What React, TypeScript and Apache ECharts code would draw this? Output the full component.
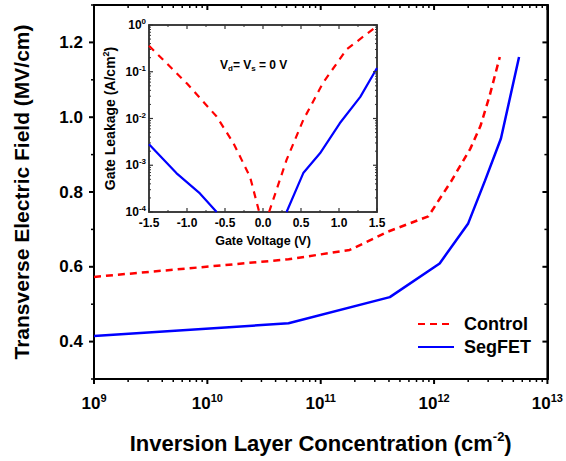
import React, { useEffect, useRef } from 'react';
import * as echarts from 'echarts';

// Main plot data (concentration in cm^-2, field in MV/cm)
const controlX = [1e9, 5.2e10, 1.8e11, 4.0e11, 8.9e11, 1.41e12, 2.09e12, 2.57e12, 3.09e12, 3.8e12];
const controlY = [0.573, 0.62, 0.645, 0.695, 0.735, 0.828, 0.916, 0.977, 1.057, 1.161];
const segX = [1e9, 5.2e10, 4.07e11, 1.12e12, 2.0e12, 2.82e12, 3.89e12, 5.62e12];
const segY = [0.415, 0.449, 0.519, 0.609, 0.716, 0.831, 0.943, 1.161];

// Inset data (gate voltage V, gate leakage A/cm^2)
const insetCtrlLeftV = [-1.5, -1.0, -0.61, -0.39, -0.17, -0.05];
const insetCtrlLeftJ = [0.36, 0.056, 0.011, 0.003, 5.6e-4, 1.0e-4];
const insetCtrlRightV = [0.08, 0.31, 0.53, 0.79, 1.1, 1.5];
const insetCtrlRightJ = [1.0e-4, 1.3e-3, 9.3e-3, 0.058, 0.3, 0.95];
const insetSegLeftV = [-1.5, -1.14, -0.83, -0.61];
const insetSegLeftJ = [2.8e-3, 6.8e-4, 2.5e-4, 1.0e-4];
const insetSegRightV = [0.31, 0.53, 0.75, 1.01, 1.28, 1.5];
const insetSegRightJ = [1.0e-4, 6.8e-4, 1.8e-3, 7.9e-3, 0.029, 0.12];

// Tick values
const xMajorTicks = [1e9, 1e10, 1e11, 1e12, 1e13];
const xDecades = [1e9, 1e10, 1e11, 1e12];
const yMajorTicks = [0.4, 0.6, 0.8, 1.0, 1.2];
const yMinorTicks = [0.3, 0.5, 0.7, 0.9, 1.1, 1.3];
const insetXMajor = [-1.5, -1.0, -0.5, 0, 0.5, 1.0, 1.5];
const insetXMinor = [-1.25, -0.75, -0.25, 0.25, 0.75, 1.25];
const insetYMajor = [1e-4, 1e-3, 1e-2, 1e-1, 1];
const insetYDecades = [1e-4, 1e-3, 1e-2, 1e-1];
const minorMult = [2, 3, 4, 5, 6, 7, 8, 9];

const FONT = '"Liberation Sans", Arial, sans-serif';

const zip = (a: number[], b: number[]) => a.map((v, i) => [v, b[i]]);

export default function App() {
  const ref = useRef<HTMLDivElement>(null);
  useEffect(() => {
    if (!ref.current) return;
    const chart = echarts.init(ref.current, undefined, { renderer: 'svg' });

    const xMinor = xDecades.flatMap((d) => minorMult.map((m) => d * m));
    const insetYMinor = insetYDecades.flatMap((d) => minorMult.map((m) => d * m));

    const expFmt = (v: number) => `{b|10}{s|${Math.round(Math.log10(v))}}`;

    const mainRich = {
      b: { fontSize: 17, fontWeight: 'bold', fontFamily: FONT, color: '#000', lineHeight: 22 },
      s: { fontSize: 11, fontWeight: 'bold', fontFamily: FONT, color: '#000', lineHeight: 11, verticalAlign: 'top' },
    };
    const insetRich = {
      b: { fontSize: 12, fontWeight: 'bold', fontFamily: FONT, color: '#000', lineHeight: 15 },
      s: { fontSize: 8, fontWeight: 'bold', fontFamily: FONT, color: '#000', lineHeight: 8, verticalAlign: 'top' },
    };

    const axisLineMain = { show: true, onZero: false, lineStyle: { color: '#000', width: 2 } };
    const axisLineInset = { show: true, onZero: false, lineStyle: { color: '#333', width: 1.5 } };

    // Tick marks drawn through the axes' scales (api.coord)
    const xTickRender = (len: number, w: number, bottomOut: boolean, color: string) => (params: any, api: any) => {
      const cs = params.coordSys;
      const p = api.coord([api.value(0), api.value(1)]);
      const x = p[0];
      const top = cs.y;
      const bottom = cs.y + cs.height;
      const style = { stroke: color, lineWidth: w, fill: null };
      return {
        type: 'group',
        children: [
          { type: 'line', shape: { x1: x, y1: bottom, x2: x, y2: bottomOut ? bottom + len : bottom - len }, style },
          { type: 'line', shape: { x1: x, y1: top, x2: x, y2: top + len }, style },
        ],
      };
    };
    const yTickRender = (len: number, w: number, leftOut: boolean, color: string) => (params: any, api: any) => {
      const cs = params.coordSys;
      const p = api.coord([api.value(0), api.value(1)]);
      const y = p[1];
      const left = cs.x;
      const right = cs.x + cs.width;
      const style = { stroke: color, lineWidth: w, fill: null };
      return {
        type: 'group',
        children: [
          { type: 'line', shape: { x1: left, y1: y, x2: leftOut ? left - len : left + len, y2: y }, style },
          { type: 'line', shape: { x1: right, y1: y, x2: right - len, y2: y }, style },
        ],
      };
    };
    const tickSeries = (name: string, xi: number, data: number[][], renderItem: any) => ({
      name, type: 'custom', xAxisIndex: xi, yAxisIndex: xi, clip: false, silent: true, z: 10, data, renderItem,
    });

    const option: any = {
      animation: false,
      backgroundColor: '#fff',
      textStyle: { fontFamily: FONT },
      grid: [
        { left: 94, right: 16, top: 5, bottom: 80, show: true, borderColor: '#000', borderWidth: 2, backgroundColor: 'transparent' },
        { left: 149, right: 189, top: 25, bottom: 249, show: true, borderColor: '#333', borderWidth: 1.5, backgroundColor: '#fff' },
      ],
      xAxis: [
        {
          gridIndex: 0, type: 'log', logBase: 10, min: 1e9, max: 1e13, position: 'bottom',
          axisLine: axisLineMain,
          axisTick: { show: false },
          axisLabel: { formatter: expFmt, rich: mainRich, margin: 13 },
          splitLine: { show: false },
          name: 'Inversion Layer Concentration (cm{s|-2})',
          nameLocation: 'middle', nameGap: 51,
          nameTextStyle: {
            fontSize: 22, fontWeight: 'bold', color: '#000', fontFamily: FONT, lineHeight: 26,
            rich: { s: { fontSize: 13, fontWeight: 'bold', color: '#000', fontFamily: FONT, lineHeight: 13, verticalAlign: 'top' } },
          },
        },
        {
          gridIndex: 0, type: 'log', logBase: 10, min: 1e9, max: 1e13, position: 'top',
          axisLine: axisLineMain, axisTick: { show: false }, axisLabel: { show: false }, splitLine: { show: false },
        },
        {
          gridIndex: 1, type: 'value', min: -1.5, max: 1.5, interval: 0.5, position: 'bottom',
          axisLine: axisLineInset,
          axisTick: { show: false },
          axisLabel: { formatter: (v: number) => v.toFixed(1), fontSize: 12, fontWeight: 'bold', color: '#000', margin: 5, fontFamily: FONT },
          splitLine: { show: false },
          name: 'Gate Voltage (V)', nameLocation: 'middle', nameGap: 22,
          nameTextStyle: { fontSize: 12.5, fontWeight: 'bold', color: '#000', fontFamily: FONT },
        },
        {
          gridIndex: 1, type: 'value', min: -1.5, max: 1.5, interval: 0.5, position: 'top',
          axisLine: axisLineInset, axisTick: { show: false }, axisLabel: { show: false }, splitLine: { show: false },
        },
      ],
      yAxis: [
        {
          gridIndex: 0, type: 'value', min: 0.3, max: 1.3, position: 'left',
          axisLine: axisLineMain,
          axisTick: { show: false },
          axisLabel: { customValues: yMajorTicks, formatter: (v: number) => v.toFixed(1), fontSize: 17, fontWeight: 'bold', color: '#000', margin: 11, fontFamily: FONT },
          splitLine: { show: false },
          name: 'Transverse Electric Field (MV/cm)', nameLocation: 'middle', nameGap: 62,
          nameTextStyle: { fontSize: 21, fontWeight: 'bold', color: '#000', fontFamily: FONT },
        },
        {
          gridIndex: 0, type: 'value', min: 0.3, max: 1.3, position: 'right',
          axisLine: axisLineMain, axisTick: { show: false }, axisLabel: { show: false }, splitLine: { show: false },
        },
        {
          gridIndex: 1, type: 'log', logBase: 10, min: 1e-4, max: 1, position: 'left',
          axisLine: axisLineInset,
          axisTick: { show: false },
          axisLabel: { formatter: expFmt, rich: insetRich, margin: 3 },
          splitLine: { show: false },
          name: 'Gate Leakage (A/cm{s|2})', nameLocation: 'middle', nameGap: 30,
          nameTextStyle: {
            fontSize: 14, fontWeight: 'bold', color: '#000', fontFamily: FONT, lineHeight: 18,
            rich: { s: { fontSize: 9, fontWeight: 'bold', color: '#000', fontFamily: FONT, lineHeight: 9, verticalAlign: 'top' } },
          },
        },
        {
          gridIndex: 1, type: 'log', logBase: 10, min: 1e-4, max: 1, position: 'right',
          axisLine: axisLineInset, axisTick: { show: false }, axisLabel: { show: false }, splitLine: { show: false },
        },
      ],
      legend: {
        data: ['Control', 'SegFET'],
        orient: 'vertical',
        left: 412, top: 310,
        itemWidth: 36, itemHeight: 18, itemGap: 5,
        itemStyle: { opacity: 0 },
        textStyle: { fontSize: 18, fontWeight: 'bold', color: '#000', fontFamily: FONT, padding: [0, 0, 0, 5] },
      },
      graphic: [
        {
          type: 'text', left: 220, top: 59, z: 100,
          style: {
            text: '{n|V}{sub|d}{n|= V}{sub|s}{n| = 0 V}',
            rich: {
              n: { fontSize: 12, fontWeight: 'bold', fontFamily: FONT, fill: '#000', lineHeight: 15 },
              sub: { fontSize: 8, fontWeight: 'bold', fontFamily: FONT, fill: '#000', lineHeight: 8, verticalAlign: 'bottom' },
            },
          },
        },
      ],
      series: [
        {
          name: 'Control', type: 'line', xAxisIndex: 0, yAxisIndex: 0, data: zip(controlX, controlY),
          showSymbol: false, lineStyle: { color: '#ff0000', width: 2.5, type: [7, 5] }, itemStyle: { color: '#ff0000' },
        },
        {
          name: 'SegFET', type: 'line', xAxisIndex: 0, yAxisIndex: 0, data: zip(segX, segY),
          showSymbol: false, lineStyle: { color: '#0000ff', width: 2.5 }, itemStyle: { color: '#0000ff' },
        },
        {
          name: 'Control inset L', type: 'line', xAxisIndex: 2, yAxisIndex: 2, data: zip(insetCtrlLeftV, insetCtrlLeftJ),
          showSymbol: false, lineStyle: { color: '#ff0000', width: 2.2, type: [7, 6] },
        },
        {
          name: 'Control inset R', type: 'line', xAxisIndex: 2, yAxisIndex: 2, data: zip(insetCtrlRightV, insetCtrlRightJ),
          showSymbol: false, lineStyle: { color: '#ff0000', width: 2.2, type: [7, 6] },
        },
        {
          name: 'SegFET inset L', type: 'line', xAxisIndex: 2, yAxisIndex: 2, data: zip(insetSegLeftV, insetSegLeftJ),
          showSymbol: false, lineStyle: { color: '#0000ff', width: 2.2 },
        },
        {
          name: 'SegFET inset R', type: 'line', xAxisIndex: 2, yAxisIndex: 2, data: zip(insetSegRightV, insetSegRightJ),
          showSymbol: false, lineStyle: { color: '#0000ff', width: 2.2 },
        },
        tickSeries('xMajorMain', 0, xMajorTicks.map((v) => [v, 0.8]), xTickRender(5, 2, true, '#000')),
        tickSeries('xMinorMain', 0, xMinor.map((v) => [v, 0.8]), xTickRender(3, 1.5, true, '#000')),
        tickSeries('yMajorMain', 0, yMajorTicks.map((v) => [1e10, v]), yTickRender(5, 2, true, '#000')),
        tickSeries('yMinorMain', 0, yMinorTicks.map((v) => [1e10, v]), yTickRender(3, 1.5, true, '#000')),
        tickSeries('xMajorInset', 2, insetXMajor.map((v) => [v, 0.01]), xTickRender(4, 1.2, false, '#333')),
        tickSeries('xMinorInset', 2, insetXMinor.map((v) => [v, 0.01]), xTickRender(2, 1, false, '#333')),
        tickSeries('yMajorInset', 2, insetYMajor.map((v) => [0, v]), yTickRender(4, 1.2, false, '#333')),
        tickSeries('yMinorInset', 2, insetYMinor.map((v) => [0, v]), yTickRender(2, 1, false, '#333')),
      ],
    };

    chart.setOption(option);
    return () => chart.dispose();
  }, []);

  return <div ref={ref} style={{ width: 566, height: 461, position: 'absolute', left: 0, top: 0 }} />;
}
